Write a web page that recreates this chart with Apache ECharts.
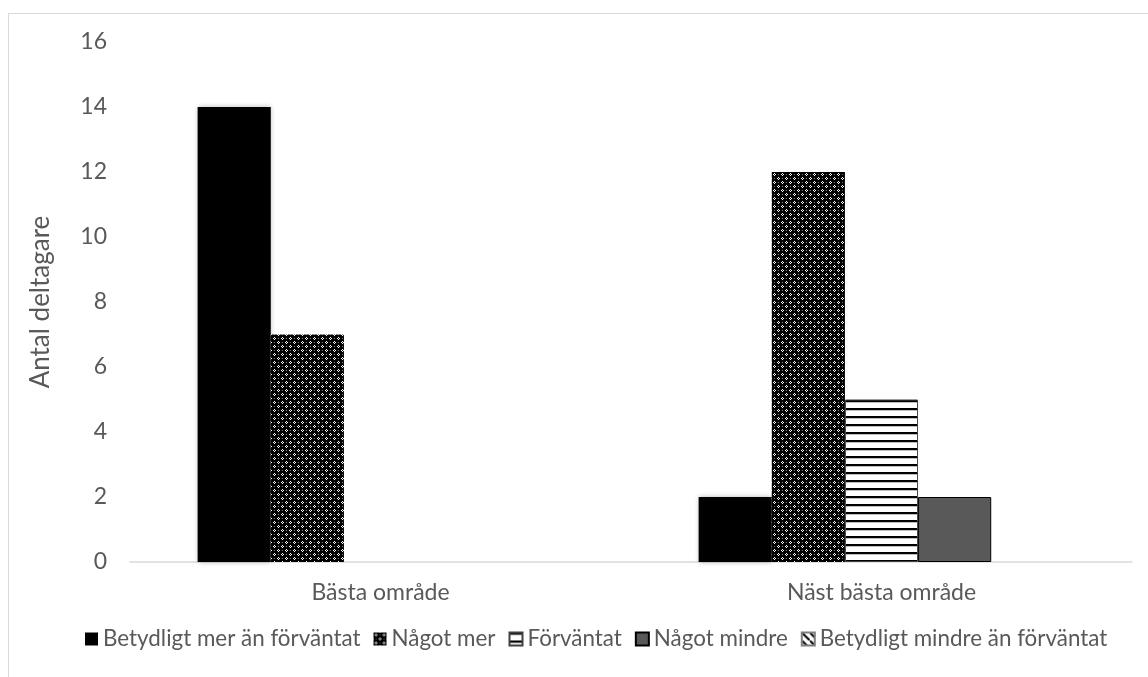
<!DOCTYPE html>
<html>
<head>
<meta charset="utf-8">
<script src="https://cdn.jsdelivr.net/npm/echarts@6/dist/echarts.min.js"></script>
<style>
  html, body { margin: 0; padding: 0; background: #fff; }
  #frame {
    position: absolute; left: 8px; top: 13px;
    width: 1200px; height: 700px;
    border: 1px solid #d9d9d9;
  }
  #chart { position: absolute; left: 0; top: 0; width: 1148px; height: 677px; }
</style>
</head>
<body>
<div id="frame"></div>
<div id="chart"></div>
<script>
// data
const categories = ['Bästa område', 'Näst bästa område'];
const seriesNames = [
  'Betydligt mer än förväntat',
  'Något mer',
  'Förväntat',
  'Något mindre',
  'Betydligt mindre än förväntat'
];
const mycketMer = [14, 2];
const nagotMer = [7, 12];
const forvantat = [0, 5];
const nagotMindre = [0, 2];
const mycketMindre = [0, 0];
const yTicks = [0, 2, 4, 6, 8, 10, 12, 14, 16];

// fill patterns, like the excel ones
function makePattern(w, h, draw) {
  const c = document.createElement('canvas');
  c.width = w;
  c.height = h;
  draw(c.getContext('2d'));
  return { image: c, repeat: 'repeat' };
}

const checkFill = makePattern(8, 8, ctx => {
  ctx.fillStyle = '#000';
  ctx.fillRect(0, 0, 8, 8);
  ctx.fillStyle = '#fff';
  ctx.fillRect(1, 2, 3, 1);
  ctx.fillRect(2, 1, 1, 3);
  ctx.fillRect(5, 6, 3, 1);
  ctx.fillRect(6, 5, 1, 3);
  ctx.fillStyle = '#000';
  ctx.fillRect(2, 2, 1, 1);
  ctx.fillRect(6, 6, 1, 1);
  ctx.fillStyle = '#6e6e6e';
  ctx.fillRect(6, 2, 1, 1);
  ctx.fillRect(2, 6, 1, 1);
});

const lineFill = makePattern(8, 8, ctx => {
  ctx.fillStyle = '#fff';
  ctx.fillRect(0, 0, 8, 8);
  ctx.fillStyle = '#000';
  ctx.fillRect(0, 0, 8, 2);
  ctx.fillStyle = '#bfbfbf';
  ctx.fillRect(0, 2, 8, 1);
});

const diagFill = makePattern(8, 8, ctx => {
  ctx.fillStyle = '#fff';
  ctx.fillRect(0, 0, 8, 8);
  ctx.strokeStyle = '#000';
  ctx.lineWidth = 2;
  ctx.beginPath();
  ctx.moveTo(0, 0);
  ctx.lineTo(8, 8);
  ctx.stroke();
});

const txt = '#595959';
const font = 'Lato';

function bars(name, values, style) {
  return {
    name: name,
    type: 'bar',
    barGap: '0%',
    barCategoryGap: '27%',
    // zero bars are not drawn in the reference
    data: values.map(v => (v === 0 ? '-' : v)),
    itemStyle: style
  };
}

const chart = echarts.init(document.getElementById('chart'));
chart.setOption({
  animation: false,
  grid: { left: 130, right: 16, top: 42, bottom: 115 },
  legend: {
    bottom: 22,
    left: 80,
    icon: 'rect',
    itemWidth: 13,
    itemHeight: 13,
    itemGap: 13,
    textStyle: { color: txt, fontFamily: font, fontSize: 22.4 },
    data: seriesNames
  },
  xAxis: {
    type: 'category',
    data: categories,
    axisLine: { lineStyle: { color: '#d9d9d9', width: 1.5 } },
    axisTick: { show: false },
    axisLabel: { color: txt, fontFamily: font, fontSize: 23, margin: 19 }
  },
  yAxis: {
    type: 'value',
    min: yTicks[0],
    max: yTicks[yTicks.length - 1],
    interval: yTicks[1] - yTicks[0],
    name: 'Antal deltagare',
    nameLocation: 'middle',
    nameGap: 76,
    nameTextStyle: { color: txt, fontFamily: font, fontSize: 26 },
    axisLine: { show: false },
    axisTick: { show: false },
    splitLine: { show: false },
    axisLabel: { color: txt, fontFamily: font, fontSize: 23, margin: 23 }
  },
  series: [
    bars(seriesNames[0], mycketMer, {
      color: '#000',
      shadowBlur: 5,
      shadowColor: 'rgba(0,0,0,0.3)'
    }),
    bars(seriesNames[1], nagotMer, { color: checkFill }),
    bars(seriesNames[2], forvantat, {
      color: lineFill,
      borderColor: '#404040',
      borderWidth: 1
    }),
    bars(seriesNames[3], nagotMindre, {
      color: '#595959',
      borderColor: '#000',
      borderWidth: 1
    }),
    bars(seriesNames[4], mycketMindre, {
      color: diagFill,
      borderColor: '#7f7f7f',
      borderWidth: 1
    })
  ]
});
</script>
</body>
</html>
